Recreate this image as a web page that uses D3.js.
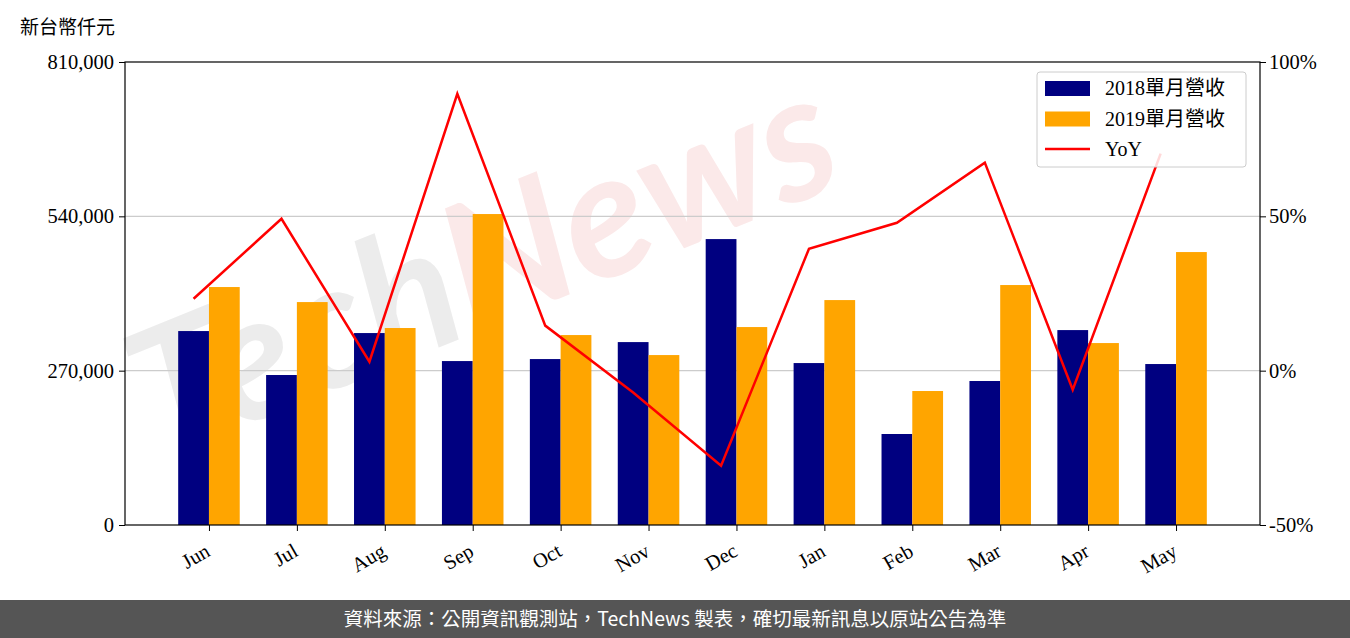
<!DOCTYPE html><html><head><meta charset="utf-8"><script src="https://cdn.jsdelivr.net/npm/d3@7"></script>
<style>body{margin:0;background:#fff}</style></head><body><svg id="c" width="1350" height="638"></svg><script>
const categories=["Jun","Jul","Aug","Sep","Oct","Nov","Dec","Jan","Feb","Mar","Apr","May"];
const rev2018=[339300,262400,335800,286800,290300,320000,500200,283300,159200,251900,341000,281600];
const rev2019=[416300,390000,344600,544000,332300,297300,346300,393500,234400,419800,318300,477500];
const yoy=[23.3,49.2,2.9,89.7,14.6,-7.1,-30.8,39.5,47.9,67.4,-6.2,70.3];
const leftTicks=[0,270000,540000,810000];
const rightTicks=[-50,0,50,100];
const svg=d3.select("#c");
const L=125,R=1260,T=62,B=525;
const x=d3.scaleLinear().domain([-0.955,11.955]).range([L,R]);
const y=d3.scaleLinear().domain([0,810000]).range([B,T]);
const y2=d3.scaleLinear().domain([-50,100]).range([B,T]);
const serif="'Liberation Serif','DejaVu Serif',serif";
// watermark
const wm=svg.append("text").attr("transform","translate(160,460) rotate(-22)")
 .attr("font-family","Lato,sans-serif").attr("font-style","italic").attr("font-weight","bold").attr("font-size",175);
wm.append("tspan").attr("fill","#ececec").text("Tech");
wm.append("tspan").attr("fill","#fbe9e9").text("News");
// grid
svg.append("g").selectAll("line").data([270000,540000]).join("line").attr("x1",L).attr("x2",R)
 .attr("y1",d=>y(d)).attr("y2",d=>y(d)).attr("stroke","#ccc").attr("stroke-width",1.2);
const w=x(0.35)-x(0);
svg.append("g").selectAll("rect").data(rev2018).join("rect").attr("x",(d,i)=>x(i)-w).attr("width",w)
 .attr("y",d=>y(d)).attr("height",d=>B-y(d)).attr("fill","#000080");
svg.append("g").selectAll("rect").data(rev2019).join("rect").attr("x",(d,i)=>x(i)).attr("width",w)
 .attr("y",d=>y(d)).attr("height",d=>B-y(d)).attr("fill","#FFA500");
svg.append("path").datum(yoy).attr("d",d3.line().x((d,i)=>x(i-0.175)).y(d=>y2(d))).attr("fill","none").attr("stroke","red").attr("stroke-width",2.5);
// frame
svg.append("rect").attr("x",L).attr("y",T).attr("width",R-L).attr("height",B-T).attr("fill","none").attr("stroke","#000").attr("stroke-width",1.2);
const ax=svg.append("g").attr("transform",`translate(${L},0)`).call(d3.axisLeft(y).tickValues(leftTicks).tickFormat(d3.format(",")).tickSizeOuter(0));
const ax2=svg.append("g").attr("transform",`translate(${R},0)`).call(d3.axisRight(y2).tickValues(rightTicks).tickFormat(d=>d+"%").tickSizeOuter(0));
const axb=svg.append("g").attr("transform",`translate(0,${B})`).call(d3.axisBottom(x).tickValues(d3.range(12)).tickFormat(i=>categories[i]).tickSizeOuter(0));
[ax,ax2,axb].forEach(a=>{a.select(".domain").remove();a.selectAll("text").attr("font-family",serif).attr("font-size",20.5).attr("fill","#000");a.selectAll("line").attr("stroke","#000");});
ax.selectAll(".tick text").attr("dx",-2);
axb.selectAll(".tick text").attr("text-anchor","end").attr("y",0).attr("dy",0).attr("transform","translate(2,30) rotate(-30)");
svg.append("text").attr("x",20).attr("y",34).attr("font-family","'Noto Sans CJK TC'").attr("font-size",19).text("新台幣仟元");
// legend
const lg=svg.append("g").attr("transform","translate(1037,72)");
lg.append("rect").attr("width",209).attr("height",95).attr("fill","#fff").attr("fill-opacity",0.85).attr("stroke","#ccc").attr("rx",3);
const items=[{t:"2018單月營收",c:"#000080",k:"r"},{t:"2019單月營收",c:"#FFA500",k:"r"},{t:"YoY",c:"red",k:"l"}];
items.forEach((it,i)=>{const cy=16+i*30.5;
 if(it.k=="r")lg.append("rect").attr("x",8).attr("y",cy-7).attr("width",45).attr("height",15).attr("fill",it.c);
 else lg.append("line").attr("x1",8).attr("x2",53).attr("y1",cy).attr("y2",cy).attr("stroke",it.c).attr("stroke-width",2.5);
 lg.append("text").attr("x",68).attr("y",cy+7).attr("font-family",serif+",'Noto Sans CJK TC'").attr("font-size",20).text(it.t);});
svg.append("rect").attr("x",0).attr("y",600).attr("width",1350).attr("height",38).attr("fill","#555");
svg.append("text").attr("x",675).attr("y",626).attr("text-anchor","middle").attr("fill","#fff").attr("font-family","'Noto Sans CJK TC'").attr("font-size",19.5).text("資料來源：公開資訊觀測站，TechNews 製表，確切最新訊息以原站公告為準");
</script></body></html>
